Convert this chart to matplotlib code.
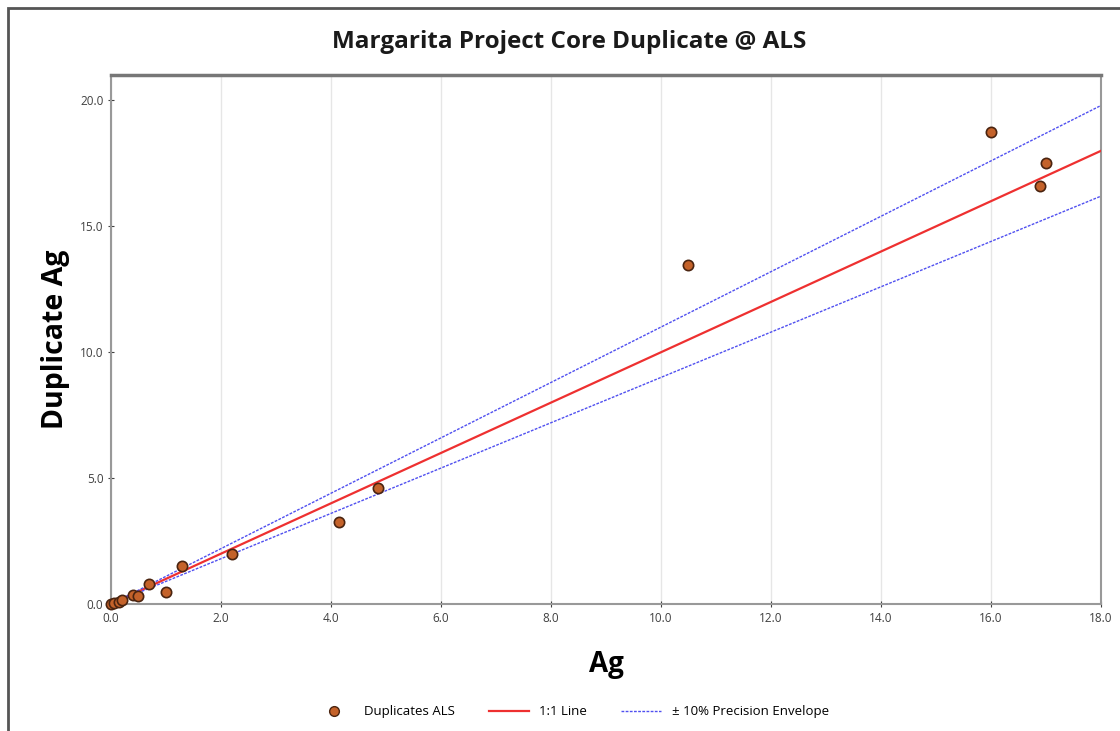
import matplotlib.pyplot as plt
from matplotlib.patches import Rectangle
from matplotlib.lines import Line2D
import numpy as np

# values
ag = [0.0, 0.05, 0.15, 0.2, 0.4, 0.5, 0.7, 1.0, 1.3, 2.2, 4.15, 4.85, 10.5, 16.0, 16.9, 17.0]
dup_ag = [0.0, 0.05, 0.1, 0.15, 0.36, 0.33, 0.8, 0.48, 1.5, 2.0, 3.25, 4.6, 13.45, 18.75, 16.6, 17.5]
line_x = [0.0, 18.0]
envelope = 0.10

x_ticks = [0, 2, 4, 6, 8, 10, 12, 14, 16, 18]
y_ticks = [0, 5, 10, 15, 20]

plt.rcParams['font.family'] = ['Open Sans', 'DejaVu Sans']

fig = plt.figure(figsize=(11.2, 7.31), dpi=100)
ax = fig.add_axes([0.0991, 0.1737, 0.8839, 0.7233])

# outer chart frame
fig.patches.append(Rectangle((8 / 1120, -0.05), 1.2, 1 - 8 / 731 + 0.05,
                             transform=fig.transFigure, fill=False,
                             edgecolor='#555555', linewidth=2))

lx = np.array(line_x)
ax.plot(lx, lx, color='#ee3030', linewidth=1.6, zorder=3)
ax.plot(lx, lx * (1 + envelope), color='#5050f0', linewidth=1.0,
        linestyle=(0, (2, 1)), zorder=3)
ax.plot(lx, lx * (1 - envelope), color='#5050f0', linewidth=1.0,
        linestyle=(0, (2, 1)), zorder=3)
ax.scatter(ag, dup_ag, s=55, color='#c4622a', edgecolor='#4a2410',
           linewidth=1.2, zorder=4, clip_on=False)

ax.set_xlim(0, 18)
ax.set_ylim(0, 21)
ax.set_xticks(x_ticks)
ax.set_xticklabels([f'{v:.1f}' for v in x_ticks])
ax.set_yticks(y_ticks)
ax.set_yticklabels([f'{v:.1f}' for v in y_ticks])
ax.tick_params(labelsize=8.5, colors='#404040', length=4, width=0.8)
ax.tick_params(axis='x', direction='inout')
ax.tick_params(axis='y', direction='inout')
ax.grid(axis='x', color='#e6e6e6', linewidth=1)
ax.set_axisbelow(True)

for side in ['left', 'bottom', 'right']:
    ax.spines[side].set_color('#999999')
    ax.spines[side].set_linewidth(1.5)
ax.spines['top'].set_color('#777777')
ax.spines['top'].set_linewidth(2.5)

ax.set_xlabel('Ag', fontsize=20, fontweight='bold', labelpad=18)
ax.set_ylabel('Duplicate Ag', fontsize=20.5, fontweight='bold', labelpad=7)
fig.text(0.508, 0.943, 'Margarita Project Core Duplicate @ ALS', ha='center',
         va='center', fontsize=17.5, fontweight='bold', color='#1a1a1a')

handles = [
    Line2D([], [], marker='o', linestyle='none', markersize=7,
           markerfacecolor='#c4622a', markeredgecolor='#4a2410'),
    Line2D([], [], color='#ee3030', linewidth=1.6),
    Line2D([], [], color='#5050f0', linewidth=1.0, linestyle=(0, (2, 1))),
]
fig.legend(handles, ['Duplicates ALS', '1:1 Line', '\u00b1 10% Precision Envelope'],
           loc='center', bbox_to_anchor=(0.51, 0.026), ncol=3, frameon=False,
           fontsize=9.5, handlelength=3.0, columnspacing=2.6)

fig.savefig('out.png', dpi=100)
